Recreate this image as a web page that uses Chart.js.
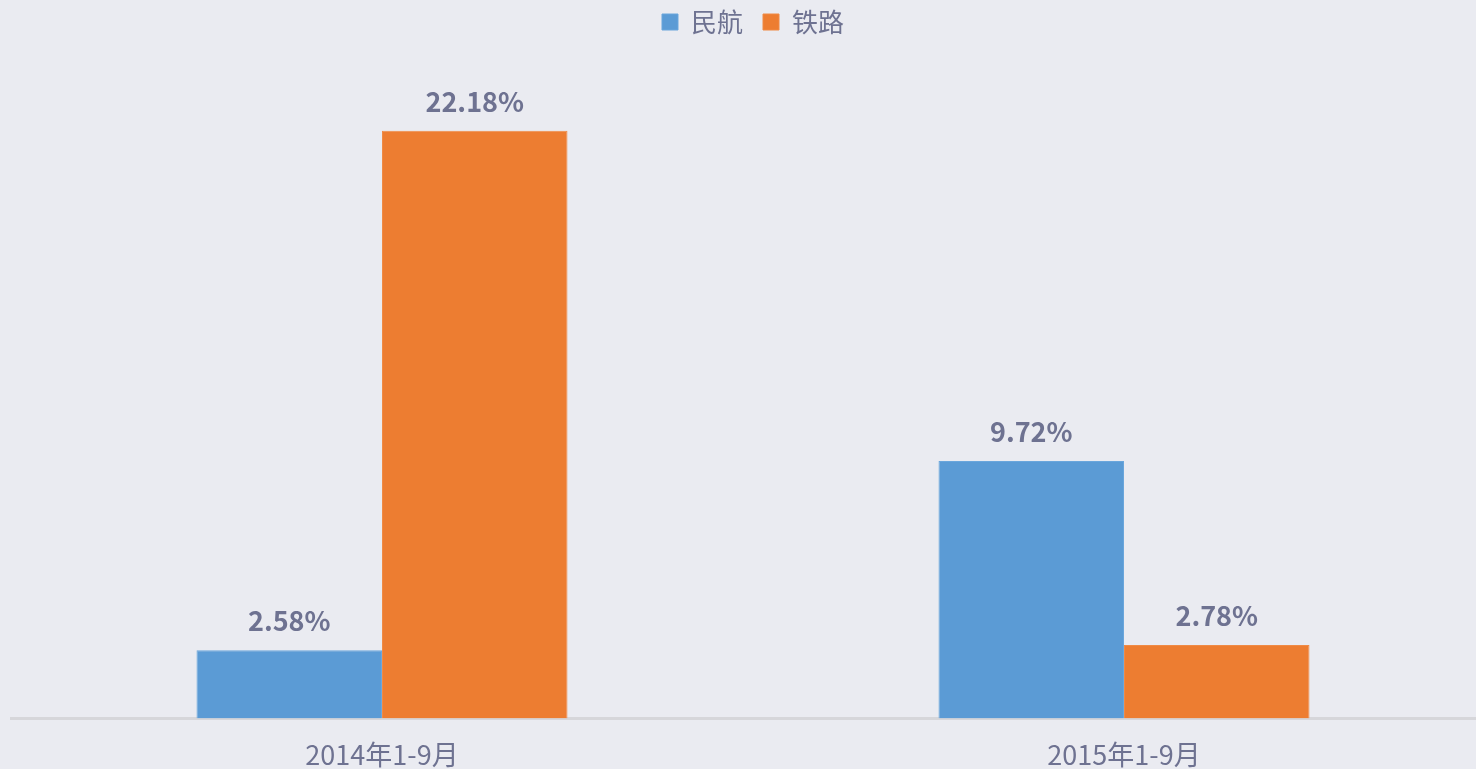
<!DOCTYPE html>
<html>
<head>
<meta charset="utf-8">
<script src="https://cdn.jsdelivr.net/npm/chart.js@4.4.1/dist/chart.umd.min.js"></script>
<style>
  html, body { margin: 0; padding: 0; background: #EAEBF1; overflow: hidden; }
  #wrap { position: absolute; left: 0; top: 0; width: 1495px; height: 783px; }
</style>
</head>
<body>
<div id="wrap"><canvas id="c"></canvas></div>
<script>
const categories = ["2014年1-9月", "2015年1-9月"]
const civil_aviation = [2.58, 9.72]
const railway = [22.18, 2.78]
const series_names = ["民航", "铁路"]

const text_color = "#6E7291"
const font_family = "'Noto Sans CJK SC', 'Noto Sans', sans-serif"

// draws the percentage above each bar
const value_labels = {
    id: "value_labels",
    afterDatasetsDraw(chart) {
        const ctx = chart.ctx
        ctx.save()
        ctx.font = "bold 27px " + font_family
        ctx.fillStyle = text_color
        ctx.textAlign = "center"
        ctx.textBaseline = "bottom"
        chart.data.datasets.forEach((ds, i) => {
            chart.getDatasetMeta(i).data.forEach((bar, j) => {
                ctx.fillText(ds.data[j].toFixed(2) + "%", bar.x, bar.y - 16)
            })
        })
        ctx.restore()
    }
}

new Chart(document.getElementById("c"), {
    type: "bar",
    data: {
        labels: categories,
        datasets: [
            {label: series_names[0], data: civil_aviation, backgroundColor: "#5B9BD5", borderColor: "#6AA6DC", borderWidth: 1},
            {label: series_names[1], data: railway, backgroundColor: "#ED7D31", borderColor: "#F08A45", borderWidth: 1}
        ]
    },
    options: {
        responsive: true,
        maintainAspectRatio: false,
        animation: false,
        layout: {padding: {left: 11, top: -11, right: 0, bottom: 0}},
        datasets: {bar: {categoryPercentage: 0.5, barPercentage: 1.0}},
        plugins: {
            legend: {
                display: true,
                position: "top",
                labels: {
                    boxWidth: 16, boxHeight: 16,
                    color: text_color,
                    font: {family: font_family, size: 26},
                    padding: 20
                }
            },
            tooltip: {enabled: false}
        },
        scales: {
            x: {
                grid: {display: false},
                border: {color: "#D6D6DA", width: 3},
                ticks: {color: text_color, font: {family: font_family, size: 27}, padding: 12}
            },
            y: {
                display: false,
                min: 0,
                max: 25.42
            }
        }
    },
    plugins: [value_labels]
})
</script>
</body>
</html>
